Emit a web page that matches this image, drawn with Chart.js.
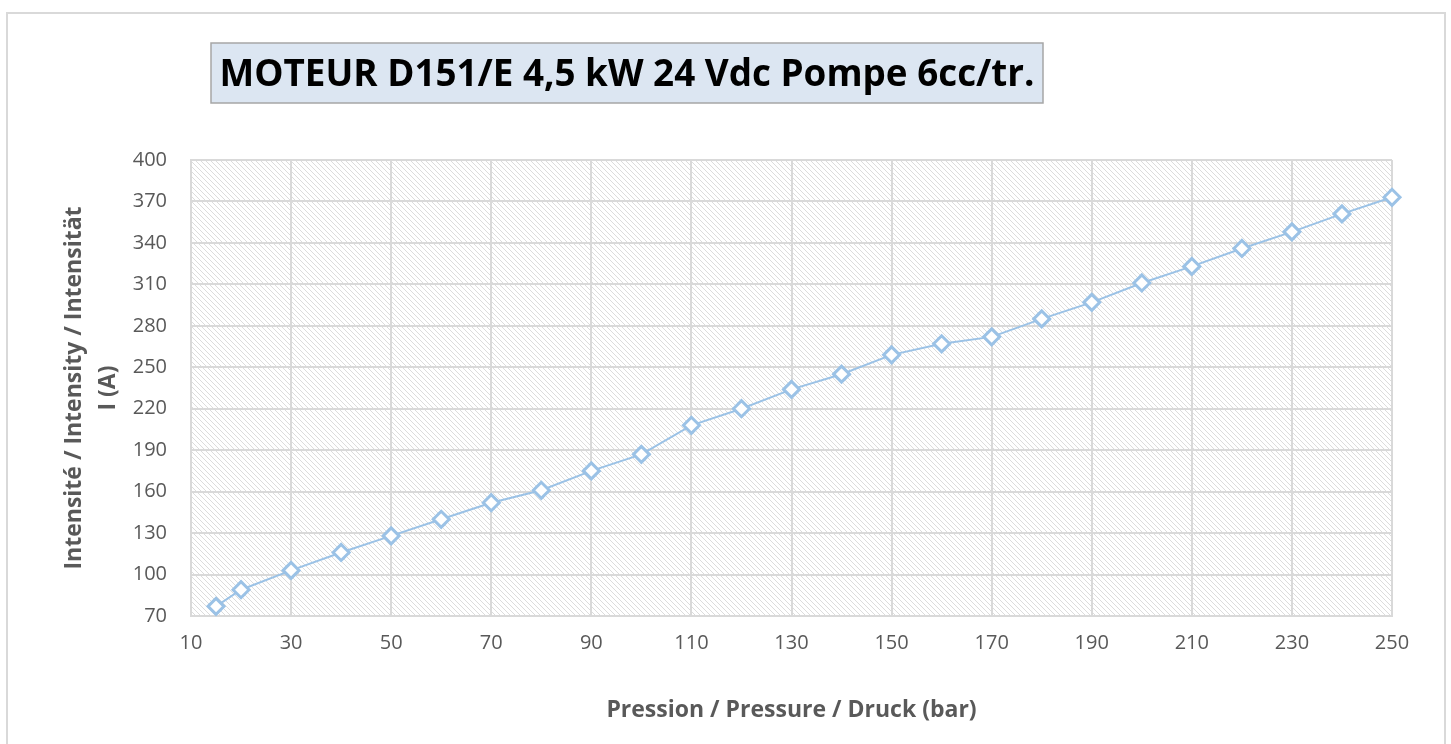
<!DOCTYPE html>
<html>
<head>
<meta charset="utf-8">
<script src="https://cdn.jsdelivr.net/npm/chart.js@4/dist/chart.umd.min.js"></script>
<style>
  html, body { margin: 0; padding: 0; background: #fff; }
</style>
</head>
<body>
<canvas id="moteurChart" width="1451" height="744"></canvas>
<script>
// Données
var pressions = [15, 20, 30, 40, 50, 60, 70, 80, 90, 100, 110, 120, 130, 140, 150, 160, 170, 180, 190, 200, 210, 220, 230, 240, 250];
var intensites = [77, 89, 103, 116, 128, 140, 152, 161, 175, 187, 208, 220, 234, 245, 259, 267, 272, 285, 297, 311, 323, 336, 348, 361, 373];

// Bornes des axes
var axeX = { min: 10, max: 250, pas: 20 };
var axeY = { min: 70, max: 400, pas: 30 };

var titre = 'MOTEUR D151/E 4,5 kW 24 Vdc Pompe 6cc/tr.';
var titreX = 'Pression / Pressure / Druck (bar)';
var titreY = ['Intensité / Intensity / Intensität', 'I (A)'];

var ctx = document.getElementById('moteurChart').getContext('2d');

// Motif hachuré pour le fond de la zone de tracé
var tuile = document.createElement('canvas');
tuile.width = 5;
tuile.height = 5;
var tctx = tuile.getContext('2d');
tctx.fillStyle = '#dcdcdc';
for (var i = 0; i < 5; i++) {
  tctx.fillRect(i, i, 1, 1);
}
var hachures = ctx.createPattern(tuile, 'repeat');

// Cadre, fond hachuré et encadré du titre
var decor = {
  id: 'decor',
  beforeDraw: function (chart) {
    var c = chart.ctx;
    var a = chart.chartArea;
    c.save();
    c.strokeStyle = '#d9d9d9';
    c.lineWidth = 2;
    c.strokeRect(7, 13, 1438, 800);

    c.fillStyle = hachures;
    c.fillRect(a.left, a.top, a.right - a.left, a.bottom - a.top);

    c.fillStyle = '#dce6f2';
    c.fillRect(211, 43, 832, 60);
    c.strokeStyle = '#a6a6a6';
    c.lineWidth = 1.5;
    c.strokeRect(211, 43, 832, 60);

    c.fillStyle = '#000';
    c.font = 'bold 37px "Open Sans"';
    c.textAlign = 'center';
    c.textBaseline = 'middle';
    c.fillText(titre, 627, 75, 815);
    c.restore();
  }
};

var police = { family: '"Open Sans", sans-serif', size: 20 };
var grille = { color: '#d9d9d9', lineWidth: 2, drawTicks: false };
var bord = { display: true, color: '#d9d9d9', width: 2 };

var chart = new Chart(ctx, {
  type: 'line',
  data: {
    datasets: [{
      data: pressions.map(function (p, i) { return { x: p, y: intensites[i] }; }),
      borderColor: '#9bc2e6',
      borderWidth: 2,
      tension: 0,
      clip: false,
      pointStyle: 'rectRot',
      pointRadius: 8,
      pointBorderWidth: 3,
      pointBorderColor: '#9bc2e6',
      pointBackgroundColor: '#ffffff'
    }]
  },
  options: {
    responsive: false,
    animation: false,
    layout: { padding: { left: 10, right: 59, top: 160, bottom: 0 } },
    plugins: {
      legend: { display: false },
      tooltip: { enabled: false }
    },
    scales: {
      x: {
        type: 'linear',
        min: axeX.min,
        max: axeX.max,
        grid: grille,
        border: bord,
        ticks: { stepSize: axeX.pas, color: '#595959', font: police, padding: 15 },
        title: {
          display: true,
          text: titreX,
          color: '#595959',
          font: { family: '"Open Sans", sans-serif', size: 23, weight: 'bold' },
          padding: { top: 0, bottom: 20 }
        },
        afterFit: function (scale) { scale.height = 128; }
      },
      y: {
        min: axeY.min,
        max: axeY.max,
        grid: grille,
        border: bord,
        ticks: { stepSize: axeY.pas, color: '#595959', font: police, padding: 24 },
        title: {
          display: true,
          text: titreY,
          color: '#595959',
          font: { family: '"Open Sans", sans-serif', size: 23, weight: 'bold', lineHeight: 1.45 },
          padding: { top: 48, bottom: 0 }
        },
        afterFit: function (scale) { scale.width = 181; }
      }
    }
  },
  plugins: [decor]
});
</script>
</body>
</html>
